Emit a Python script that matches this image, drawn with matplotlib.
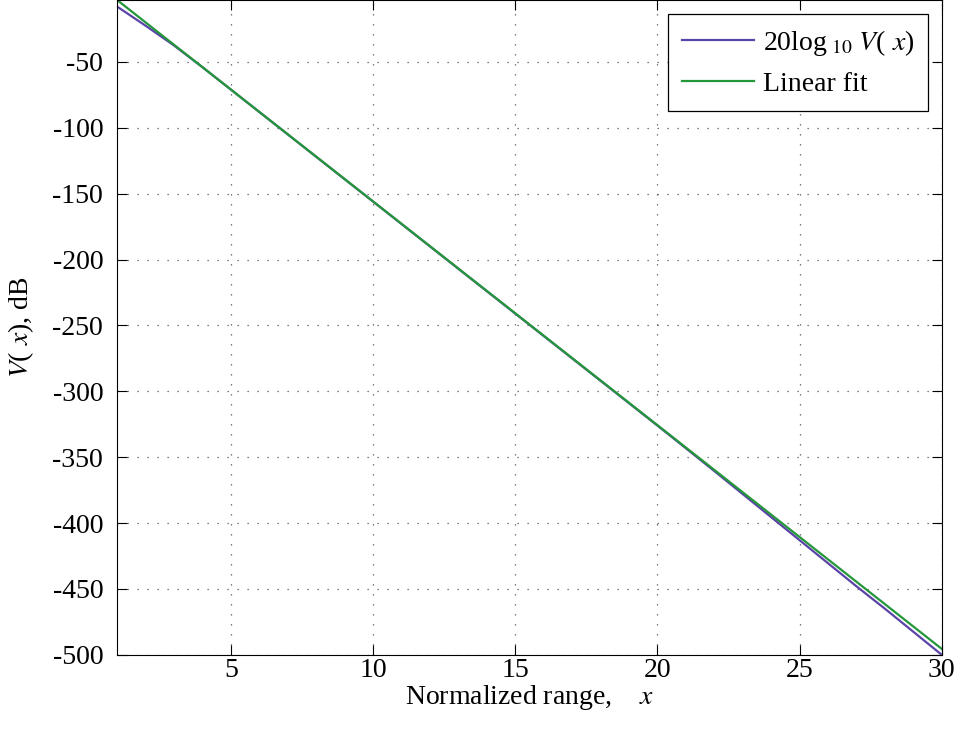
import matplotlib.pyplot as plt

plt.rcParams['font.family'] = ['Liberation Serif', 'DejaVu Serif']
plt.rcParams['mathtext.fontset'] = 'stix'
plt.rcParams['axes.unicode_minus'] = False

# normalized range and attenuation in dB
x = list(range(1, 31))
v_db = [-8, -22.5, -37.5, -54, -71, -88, -105, -122, -139, -156,
        -173, -190, -207, -224, -241, -258, -275, -292, -309, -326,
        -343.2, -360.5, -378, -395.5, -413, -430.5, -448, -465, -482.5, -500]

# straight-line fit end points
fit_x = [1, 30]
fit_y = [-3, -495.5]

fig = plt.figure(figsize=(9.6, 7.3), dpi=100)
ax = fig.add_axes([0.122, 0.103, 0.859, 0.897])

ax.plot(x, v_db, color='#5b44a8', lw=1.6, label=r'20log$_{\ 10}$ $V$( $x$)')
ax.plot(fit_x, fit_y, color='#23973a', lw=1.6, label='Linear fit')

ax.set_xlim(1, 30)
ax.set_ylim(-500, -3)
ax.set_xticks([5, 10, 15, 20, 25, 30])
ax.set_yticks(range(-500, -49, 50))
ax.tick_params(direction='in', length=7, labelsize=20, top=True, right=True)
ax.tick_params(axis='x', pad=2)
ax.tick_params(axis='y', pad=10)
ax.grid(True, color='#555555', linestyle=(0, (1, 7)), lw=0.9)

ax.set_xlabel(r'Normalized range,    $x$', fontsize=20, labelpad=0)
ax.set_ylabel(r'$V$( $x$), dB', fontsize=20, labelpad=12)

leg = ax.legend(loc='upper right', fontsize=20, fancybox=False, framealpha=1,
                edgecolor='black', handlelength=2.6, handletextpad=0.3,
                borderaxespad=0.5, labelspacing=0.5, borderpad=0.5)
leg.get_frame().set_linewidth(0.9)

fig.savefig('out.png')
